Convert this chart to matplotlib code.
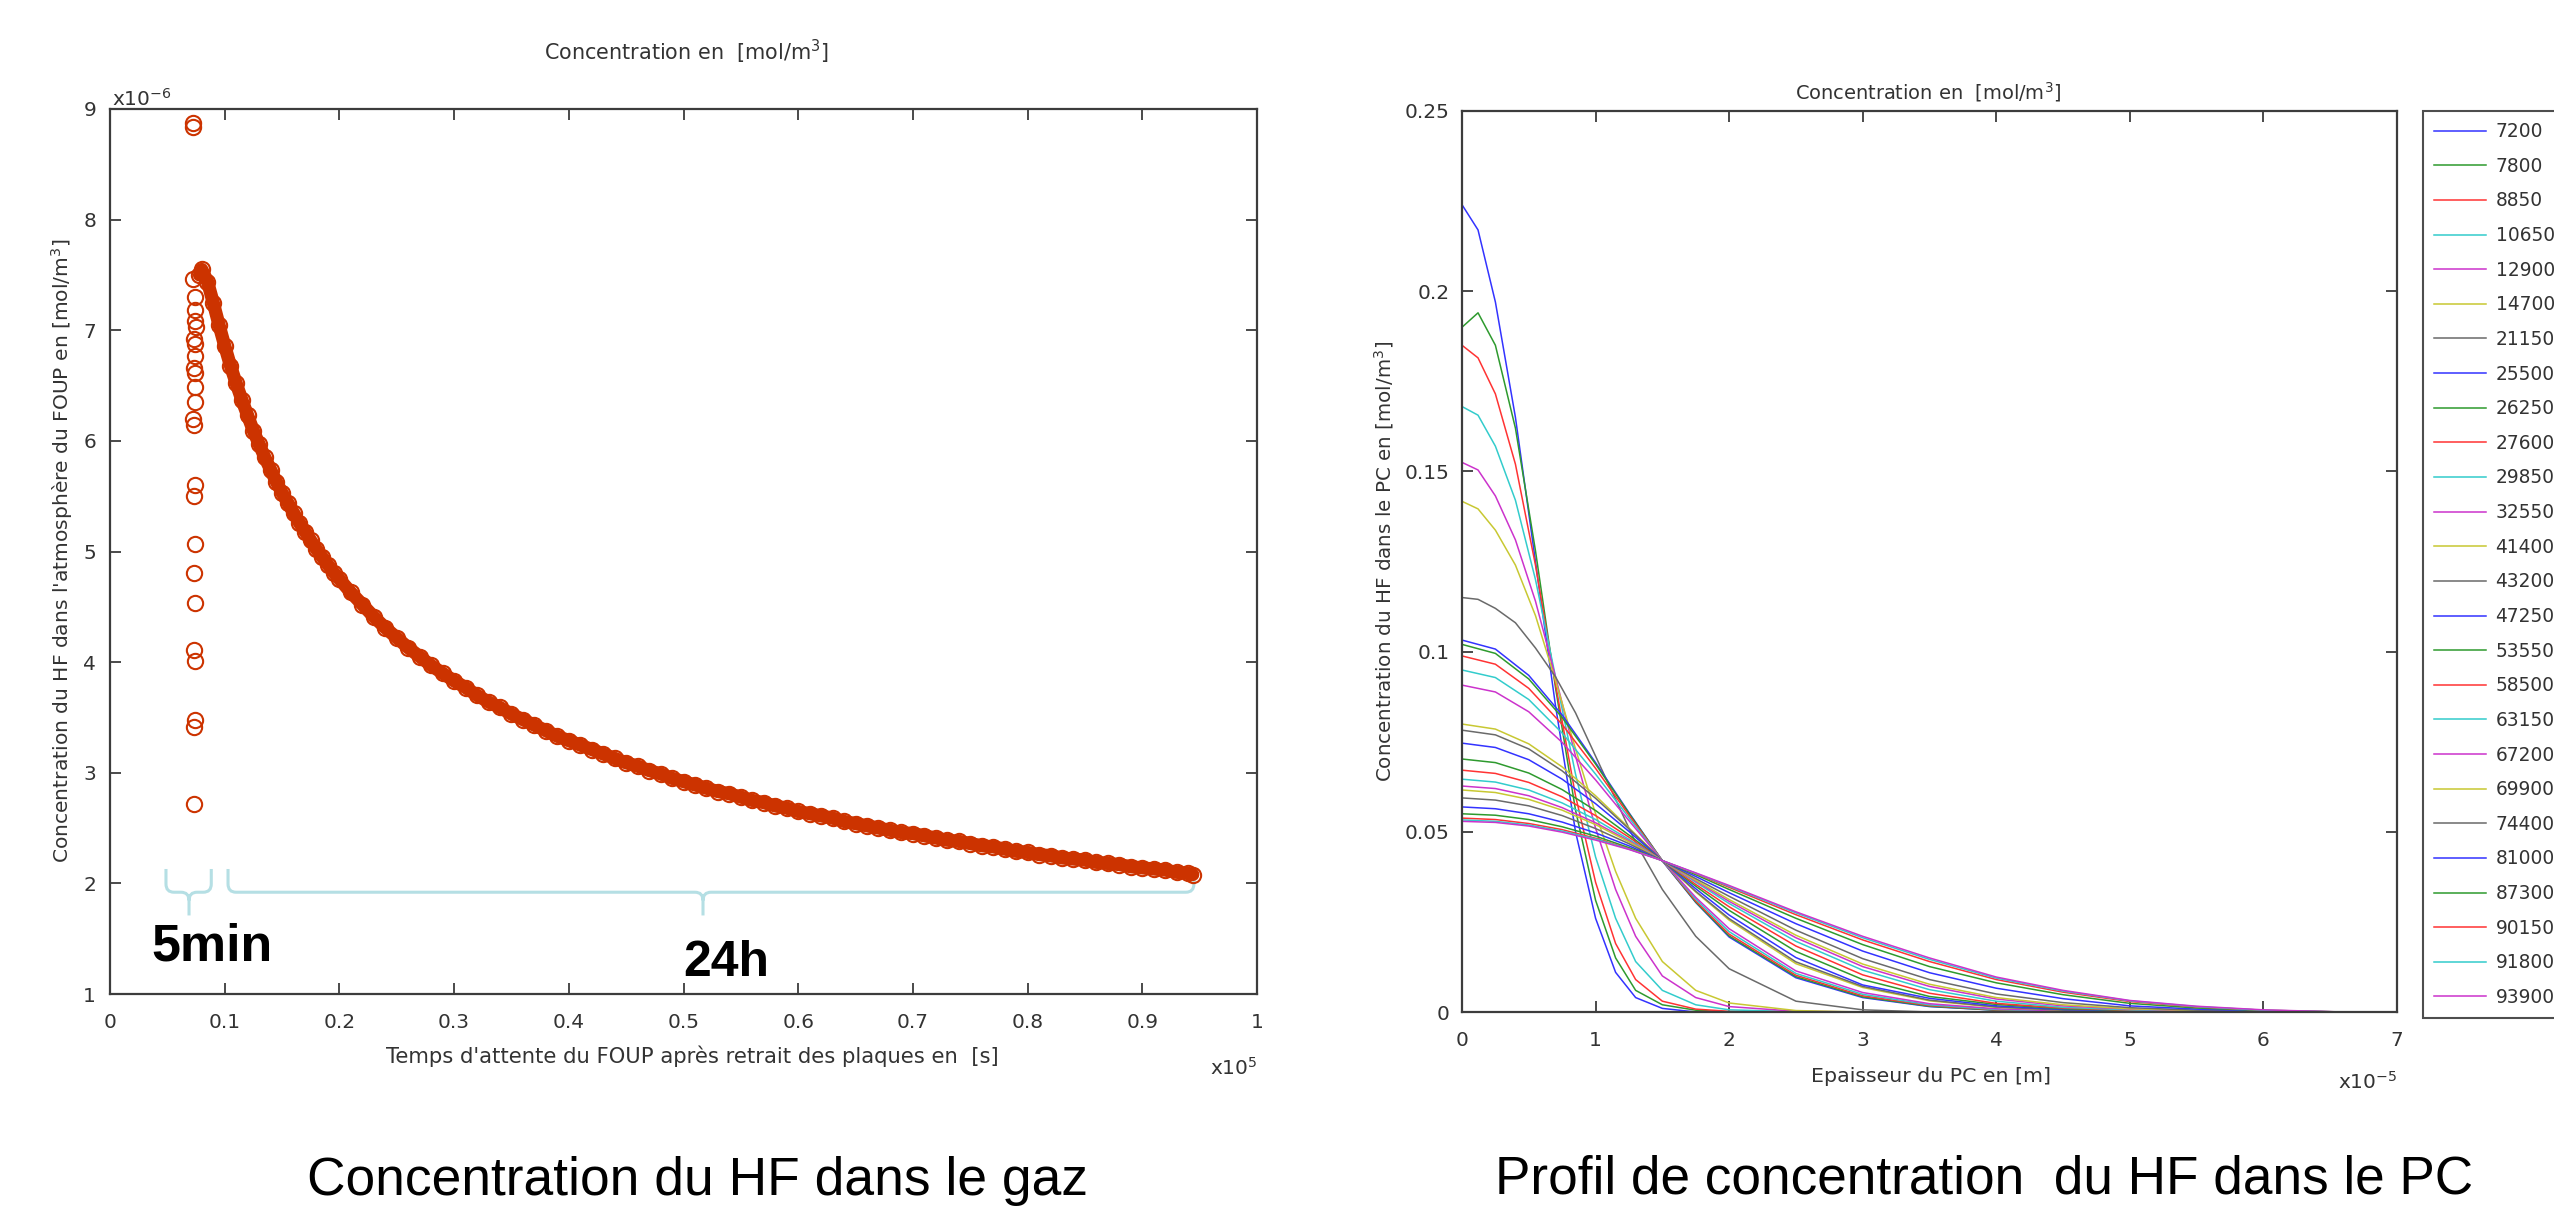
import numpy as np
import matplotlib
matplotlib.use("Agg")
import matplotlib.pyplot as plt
from matplotlib.path import Path
from matplotlib.patches import PathPatch

W, H = 2554, 1207

# ---------------- data : left panel (gas concentration, x1e-6 mol/m3) ----------------
burst_time_s = [7200, 7250, 7250, 7400, 7450, 7400, 7500, 7300, 7450, 7400, 7350, 7450, 7400,
                7400, 7200, 7350, 7400, 7300, 7450, 7300, 7400, 7350, 7450, 7400, 7300, 7350]
burst_conc_e6 = [8.87, 8.84, 7.46, 7.30, 7.18, 7.08, 7.03, 6.92, 6.88, 6.77, 6.66, 6.61, 6.49,
                 6.35, 6.20, 6.14, 5.60, 5.50, 5.07, 4.81, 4.53, 4.11, 4.01, 3.48, 3.41, 2.72]

decay_time_s = [7800, 8000, 8500, 9000, 9500, 10000, 10500, 11000, 11500, 12000, 12500, 13000,
                13500, 14000, 14500, 15000, 15500, 16000, 16500, 17000, 17500, 18000, 18500,
                19000, 19500, 20000, 21000, 22000, 23000, 24000, 25000, 26000, 27000, 28000,
                29000, 30000, 31000, 32000, 33000, 34000, 35000, 36000, 37000, 38000, 39000,
                40000, 41000, 42000, 43000, 44000, 45000, 46000, 47000, 48000, 49000, 50000,
                51000, 52000, 53000, 54000, 55000, 56000, 57000, 58000, 59000, 60000, 61000,
                62000, 63000, 64000, 65000, 66000, 67000, 68000, 69000, 70000, 71000, 72000,
                73000, 74000, 75000, 76000, 77000, 78000, 79000, 80000, 81000, 82000, 83000,
                84000, 85000, 86000, 87000, 88000, 89000, 90000, 91000, 92000, 93000, 94000, 94400]
decay_conc_e6 = [7.50, 7.55, 7.44, 7.25, 7.05, 6.86, 6.68, 6.52, 6.37, 6.23, 6.09, 5.97,
                 5.85, 5.74, 5.63, 5.53, 5.44, 5.35, 5.26, 5.18, 5.10, 5.02, 4.95,
                 4.88, 4.81, 4.75, 4.63, 4.52, 4.41, 4.31, 4.22, 4.13, 4.05, 3.97,
                 3.90, 3.83, 3.77, 3.70, 3.64, 3.59, 3.53, 3.48, 3.43, 3.38, 3.33,
                 3.29, 3.25, 3.21, 3.17, 3.13, 3.09, 3.06, 3.02, 2.99, 2.95, 2.92,
                 2.89, 2.86, 2.83, 2.81, 2.78, 2.75, 2.73, 2.70, 2.68, 2.65, 2.63,
                 2.61, 2.59, 2.56, 2.54, 2.52, 2.50, 2.48, 2.46, 2.45, 2.43, 2.41,
                 2.39, 2.38, 2.36, 2.34, 2.33, 2.31, 2.29, 2.28, 2.26, 2.25, 2.23,
                 2.22, 2.21, 2.19, 2.18, 2.17, 2.15, 2.14, 2.13, 2.12, 2.10, 2.09, 2.08]

left_xtick_labels = ['0', '0.1', '0.2', '0.3', '0.4', '0.5', '0.6', '0.7', '0.8', '0.9', '1']
left_ytick_labels = ['1', '2', '3', '4', '5', '6', '7', '8', '9']

# ---------------- data : right panel (PC profiles, depth in 1e-5 m) ----------------
depth_early_e5 = [0, 0.12, 0.25, 0.4, 0.55, 0.7, 0.85, 1.0, 1.15, 1.3, 1.5, 1.75, 2.0, 2.5,
                  3.0, 3.5, 4.0, 4.5, 5.0, 5.5, 6.0, 6.6]
depth_late_e5 = [0, 0.25, 0.5, 0.75, 1.0, 1.25, 1.5, 1.75, 2.0, 2.5, 3.0, 3.5, 4.0, 4.5,
                 5.0, 5.5, 6.0, 6.6]

profile_times = [7200, 7800, 8850, 10650, 12900, 14700, 21150, 25500, 26250, 27600, 29850,
                 32550, 41400, 43200, 47250, 53550, 58500, 63150, 67200, 69900, 74400, 81000,
                 87300, 90150, 91800, 93900]

p7200 = [.224, .217, .197, .165, .125, .085, .050, .026, .011, .004, .001, 0, 0, 0, 0, 0, 0, 0, 0, 0, 0, 0]
p7800 = [.190, .194, .185, .162, .128, .090, .056, .031, .015, .006, .002, .0005, 0, 0, 0, 0, 0, 0, 0, 0, 0, 0]
p8850 = [.185, .1815, .1715, .152, .124, .091, .060, .036, .019, .009, .003, .0008, .0002, 0, 0, 0, 0, 0, 0, 0, 0, 0]
p10650 = [.168, .1656, .157, .142, .120, .093, .066, .043, .026, .014, .006, .002, .0006, .0001, 0, 0, 0, 0, 0, 0, 0, 0]
p12900 = [.1525, .1504, .1432, .131, .114, .093, .071, .051, .034, .021, .010, .004, .0015, .0002, 0, 0, 0, 0, 0, 0, 0, 0]
p14700 = [.1417, .1396, .1337, .124, .110, .092, .073, .055, .039, .026, .014, .006, .0025, .0004, 0, 0, 0, 0, 0, 0, 0, 0]
p21150 = [.115, .1145, .112, .108, .101, .093, .083, .071, .059, .047, .034, .021, .012, .003, .0006, 0, 0, 0, 0, 0, 0, 0]

p25500 = [.1032, .1007, .0934, .0824, .0692, .0553, .0419, .0304, .0208, .0095, .0040, .0015, .0005, .0001, 0, 0, 0, 0]
p26250 = [.1020, .0995, .0924, .0817, .0688, .0551, .0420, .0305, .0211, .0098, .0042, .0016, .0005, .0001, 0, 0, 0, 0]
p27600 = [.0988, .0965, .0898, .0798, .0676, .0546, .0420, .0308, .0216, .0102, .0045, .0018, .0006, .0002, 0, 0, 0, 0]
p29850 = [.0949, .0928, .0867, .0774, .0660, .0539, .0420, .0313, .0223, .0107, .0049, .0020, .0007, .0002, 0, 0, 0, 0]
p32550 = [.0907, .0888, .0833, .0748, .0644, .0531, .0420, .0318, .0231, .0114, .0054, .0023, .0009, .0003, .0001, 0, 0, 0]
p41400 = [.0799, .0785, .0744, .0680, .0600, .0511, .0420, .0333, .0255, .0134, .0068, .0031, .0013, .0005, .0002, .0001, 0, 0]
p43200 = [.0782, .0769, .0730, .0669, .0593, .0508, .0420, .0335, .0259, .0139, .0071, .0033, .0014, .0005, .0002, .0001, 0, 0]
p47250 = [.0746, .0734, .0700, .0646, .0578, .0501, .0420, .0342, .0269, .0151, .0075, .0038, .0017, .0007, .0003, .0001, 0, 0]
p53550 = [.0702, .0692, .0663, .0617, .0559, .0491, .0420, .0349, .0282, .0168, .0090, .0043, .0021, .0009, .0004, .0001, 0, 0]
p58500 = [.0671, .0662, .0637, .0597, .0545, .0485, .0420, .0354, .0292, .0183, .0103, .0052, .0024, .0011, .0005, .0002, .0001, 0]
p63150 = [.0646, .0638, .0616, .0580, .0534, .0479, .0420, .0360, .0301, .0196, .0116, .0062, .0030, .0013, .0006, .0002, .0001, 0]
p67200 = [.0627, .0620, .0600, .0567, .0525, .0475, .0420, .0363, .0307, .0206, .0126, .0071, .0036, .0017, .0008, .0003, .0001, 0]
p69900 = [.0616, .0609, .0590, .0560, .0520, .0472, .0420, .0366, .0312, .0213, .0133, .0077, .0040, .0020, .0009, .0004, .0001, 0]
p74400 = [.0594, .0588, .0572, .0545, .0509, .0467, .0420, .0370, .0321, .0227, .0148, .0090, .0050, .0026, .0012, .0005, .0002, 0]
p81000 = [.0569, .0564, .0550, .0527, .0497, .0461, .0420, .0376, .0331, .0245, .0169, .0109, .0066, .0037, .0017, .0008, .0003, 0]
p87300 = [.0550, .0546, .0534, .0514, .0488, .0456, .0420, .0381, .0340, .0260, .0187, .0126, .0081, .0048, .0024, .0011, .0004, 0]
p90150 = [.0538, .0534, .0523, .0506, .0482, .0453, .0420, .0384, .0346, .0270, .0200, .0140, .0090, .0055, .0029, .0014, .0005, 0]
p91800 = [.0533, .0529, .0519, .0502, .0480, .0452, .0420, .0385, .0349, .0275, .0206, .0146, .0094, .0058, .0031, .0015, .0005, 0]
p93900 = [.0529, .0526, .0516, .0499, .0477, .0451, .0420, .0386, .0351, .0278, .0210, .0150, .0097, .0060, .0032, .0016, .0006, 0]

early_profiles = [p7200, p7800, p8850, p10650, p12900, p14700, p21150]
late_profiles = [p25500, p26250, p27600, p29850, p32550, p41400, p43200, p47250, p53550,
                 p58500, p63150, p67200, p69900, p74400, p81000, p87300, p90150, p91800, p93900]

right_xtick_labels = ['0', '1', '2', '3', '4', '5', '6', '7']
right_ytick_labels = ['0', '0.05', '0.1', '0.15', '0.2', '0.25']

# brace annotations (x in 1e5 s : left end, tip, right end)
brace_spans = [(0.0488, 0.0689, 0.0883), (0.1029, 0.517, 0.945)]
brace_labels = ['5min', '24h']

# ---------------- styling ----------------
RED = '#cc3300'
LINE_COLORS = ['#3333ff', '#2e9a2e', '#ff3333', '#33cccc', '#cc33cc', '#c8c832', '#6a6a6a']
SPINE = '#3c3c3c'
TXT = '#333333'
BRACE = '#b5dfe4'

fig = plt.figure(figsize=(W / 100, H / 100), dpi=100)
fig.patch.set_facecolor('white')


def px_axes(l, t, r, b):
    return fig.add_axes([l / W, 1 - b / H, (r - l) / W, (b - t) / H])


axL = px_axes(110, 109, 1257, 994)
axR = px_axes(1462, 111, 2397, 1012)

for ax in (axL, axR):
    for s in ax.spines.values():
        s.set_color(SPINE)
        s.set_linewidth(1.6)
    ax.tick_params(direction='in', length=8, width=1.3, color=SPINE, top=True, right=True,
                   labelsize=14.5, labelcolor=TXT)
    ax.tick_params(axis='x', pad=14)

# ----- left panel -----
dt = np.array(decay_time_s, float)
dc = np.array(decay_conc_e6, float) * 1e-6
axL.plot(dt, dc, '-', color=RED, lw=9.5, solid_capstyle='round', zorder=2)
axL.plot(dt, dc, 'o', mfc='none', mec=RED, ms=11, mew=1.5, zorder=3)
axL.plot(np.array(burst_time_s, float), np.array(burst_conc_e6) * 1e-6, 'o', mfc='none',
         mec=RED, ms=11, mew=1.5, zorder=3)
axL.set_xlim(0, 1e5)
axL.set_ylim(1e-6, 9e-6)
axL.set_xticks(np.linspace(0, 1e5, len(left_xtick_labels)))
axL.set_xticklabels(left_xtick_labels)
axL.set_yticks(np.linspace(1e-6, 9e-6, len(left_ytick_labels)))
axL.set_yticklabels(left_ytick_labels)
axL.tick_params(axis='y', pad=10)

# braces
y_top, y_mid, y_tip = 2.13e-6, 1.92e-6, 1.71e-6
rx, ry = 700.0, 0.075e-6
for (a, c, b) in brace_spans:
    a, c, b = a * 1e5, c * 1e5, b * 1e5
    verts = [(a, y_top), (a, y_mid + ry), (a, y_mid), (a + rx, y_mid), (c - rx, y_mid),
             (c, y_mid), (c, y_mid - ry), (c, y_tip),
             (c, y_mid - ry), (c, y_mid), (c + rx, y_mid), (b - rx, y_mid), (b, y_mid),
             (b, y_mid + ry), (b, y_top)]
    codes = [Path.MOVETO, Path.LINETO, Path.CURVE3, Path.CURVE3, Path.LINETO, Path.CURVE3,
             Path.CURVE3, Path.LINETO,
             Path.MOVETO, Path.CURVE3, Path.CURVE3, Path.LINETO, Path.CURVE3, Path.CURVE3,
             Path.LINETO]
    axL.add_patch(PathPatch(Path(verts, codes), fill=False, edgecolor=BRACE, lw=2.2, zorder=1))

# ----- right panel -----
k = 0
handles = []
for prof in early_profiles:
    ln, = axR.plot(np.array(depth_early_e5) * 1e-5, prof, color=LINE_COLORS[k % 7], lw=1.1)
    handles.append(ln)
    k += 1
for prof in late_profiles:
    ln, = axR.plot(np.array(depth_late_e5) * 1e-5, prof, color=LINE_COLORS[k % 7], lw=1.1)
    handles.append(ln)
    k += 1
axR.set_xlim(0, 7e-5)
axR.set_ylim(0, 0.25)
axR.set_xticks(np.linspace(0, 7e-5, len(right_xtick_labels)))
axR.set_xticklabels(right_xtick_labels)
axR.set_yticks(np.linspace(0, 0.25, len(right_ytick_labels)))
axR.set_yticklabels(right_ytick_labels)
axR.tick_params(axis='y', pad=9)

leg = fig.legend(handles, [str(t) for t in profile_times], loc='upper left',
                 bbox_to_anchor=(2423 / W, 1 - 111 / H), borderaxespad=0, frameon=True,
                 fancybox=False, edgecolor='#222222', fontsize=13.4, labelspacing=0.84,
                 handlelength=2.8, handletextpad=0.5, borderpad=0.6)
leg.get_frame().set_linewidth(1.5)
for t in leg.get_texts():
    t.set_color(TXT)


# ----- texts -----
def ftext(x, y, s, **kw):
    return fig.text(x / W, 1 - y / H, s, **kw)


fits = []
t = ftext(686, 52, 'Concentration en  [mol/m$^3$]', ha='center', va='center', color=TXT, fontsize=14)
fits.append((t, 286, False))
t = ftext(1928, 92, 'Concentration en  [mol/m$^3$]', ha='center', va='center', color=TXT, fontsize=14)
fits.append((t, 266, False))
t = ftext(692, 1056, "Temps d'attente du FOUP après retrait des plaques en  [s]", ha='center',
          va='center', color=TXT, fontsize=14)
fits.append((t, 613, False))
t = ftext(1931, 1076, 'Epaisseur du PC en [m]', ha='center', va='center', color=TXT, fontsize=14)
fits.append((t, 240, False))
t = ftext(62, 551, "Concentration du HF dans l'atmosphère du FOUP en [mol/m$^3$]", ha='center',
          va='center', rotation=90, color=TXT, fontsize=14)
fits.append((t, 628, True))
t = ftext(1384, 561, 'Concentration du HF dans le PC en [mol/m$^3$]', ha='center', va='center',
          rotation=90, color=TXT, fontsize=14)
fits.append((t, 441, True))
t = ftext(697, 1181, 'Concentration du HF dans le gaz', ha='center', va='center',
          family='Liberation Sans', color='black', fontsize=38)
fits.append((t, 779, False))
t = ftext(1984, 1179, 'Profil de concentration  du HF dans le PC', ha='center', va='center',
          family='Liberation Sans', color='black', fontsize=38)
fits.append((t, 976, False))
t = ftext(212, 947, brace_labels[0], ha='center', va='center', family='Liberation Sans',
          weight='bold', color='black', fontsize=37)
fits.append((t, 121, False))
t = ftext(726, 963, brace_labels[1], ha='center', va='center', family='Liberation Sans',
          weight='bold', color='black', fontsize=36)
fits.append((t, 86, False))

# exponent labels
ftext(112, 110, r'x10$^{-6}$', ha='left', va='bottom', color=TXT, fontsize=14.5)
ftext(1257, 1068, r'x10$^{5}$', ha='right', va='center', color=TXT, fontsize=14.5)
ftext(2397, 1082, r'x10$^{-5}$', ha='right', va='center', color=TXT, fontsize=14.5)

fig.canvas.draw()
r = fig.canvas.get_renderer()
for t, target, vert in fits:
    bb = t.get_window_extent(r)
    cur = bb.height if vert else bb.width
    if cur > 0:
        t.set_fontsize(t.get_fontsize() * target / cur)

fig.savefig('out.png', dpi=100, facecolor='white')
